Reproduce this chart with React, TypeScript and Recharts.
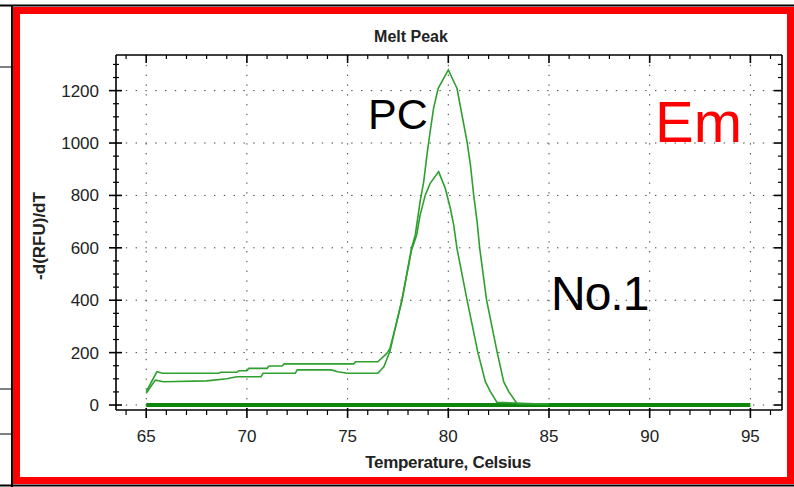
import { LineChart, Line, XAxis, YAxis, CartesianGrid, ReferenceLine } from "recharts";

// melt peak curves (temperature in °C, -d(RFU)/dT)
const pcTemp = [65, 65.45, 65.86, 68.0, 69.0, 69.5, 70.7, 70.8, 72.4, 72.5, 74.2, 74.5, 75.0, 76.5, 76.8, 77.1, 77.4, 77.7, 78.17, 78.36, 78.6, 78.78, 78.94, 79.1, 79.27, 79.5, 80.0, 80.43, 80.68, 80.93, 81.1, 81.26, 81.43, 81.56, 81.9, 82.42, 82.75, 83.0, 83.42, 85.0];
const pcValue = [45, 95, 89, 92, 100, 108, 108, 121, 121, 134, 134, 127, 121, 121, 146, 204, 305, 401, 598, 649, 776, 853, 955, 1044, 1133, 1209, 1279, 1209, 1107, 1005, 916, 802, 700, 598, 401, 204, 89, 51, 5, 3];

const no1Temp = [65, 65.53, 65.8, 68.6, 68.7, 69.5, 69.6, 70.0, 70.1, 71.0, 71.1, 71.75, 71.85, 75.3, 75.4, 76.5, 76.95, 77.1, 77.4, 77.7, 78.17, 78.43, 78.6, 78.86, 79.1, 79.52, 79.85, 80.1, 80.27, 80.43, 80.93, 81.46, 81.84, 82.09, 82.42, 85.0];
const no1Value = [51, 127, 121, 121, 125, 125, 131, 131, 140, 140, 149, 149, 157, 157, 165, 165, 197, 215, 305, 401, 590, 649, 725, 802, 846, 891, 827, 751, 687, 598, 401, 204, 89, 51, 10, 3];

// flat negative samples
const flatTemp = [65, 70, 75, 80, 85, 90, 95];
const flatValue = [0, 0, 0, 0, 0, 0, 0];

const xMajor = [65, 70, 75, 80, 85, 90, 95];
const xMinor = [64, 65, 66, 67, 68, 69, 70, 71, 72, 73, 74, 75, 76, 77, 78, 79, 80, 81, 82, 83, 84, 85, 86, 87, 88, 89, 90, 91, 92, 93, 94, 95, 96];
const yMajor = [0, 200, 400, 600, 800, 1000, 1200];
const yMinor = [0, 50, 100, 150, 200, 250, 300, 350, 400, 450, 500, 550, 600, 650, 700, 750, 800, 850, 900, 950, 1000, 1050, 1100, 1150, 1200, 1250, 1300];

const pc = pcTemp.map((t, i) => ({ t, v: pcValue[i] }));
const no1 = no1Temp.map((t, i) => ({ t, v: no1Value[i] }));
const flat = flatTemp.map((t, i) => ({ t, v: flatValue[i] }));

const xDomain = [63.5, 96.57];
const yDomain = [-19, 1336];
const font = "'Liberation Sans', Arial, sans-serif";
const curveColor = "#2f9f2f";
const PLOT_TOP = 55;
const PLOT_RIGHT = 782;

// bottom ticks + the mirrored ticks on the top edge of the frame
function XTick(props: any) {
  const { x, y, payload } = props;
  const major = xMajor.includes(payload.value);
  return (
    <g>
      <line x1={x} x2={x} y1={major ? y - 2 : y} y2={y + (major ? 8 : 5)} stroke="#000" strokeWidth={major ? 1.6 : 1.2} />
      <line x1={x} x2={x} y1={PLOT_TOP} y2={PLOT_TOP + (major ? 8 : 4)} stroke="#000" strokeWidth={major ? 1.6 : 1.2} />
      {major && (
        <text x={x} y={y + 32} textAnchor="middle" fontSize={17} fill="#222">{payload.value}</text>
      )}
    </g>
  );
}

// left ticks (crossing the axis) + inward ticks on the right edge
function YTick(props: any) {
  const { x, y, payload } = props;
  const major = yMajor.includes(payload.value);
  return (
    <g>
      <line x1={x - (major ? 7 : 3)} x2={x + (major ? 6 : 3)} y1={y} y2={y} stroke="#000" strokeWidth={major ? 1.6 : 1.2} />
      <line x1={PLOT_RIGHT - (major ? 8 : 4)} x2={PLOT_RIGHT} y1={y} y2={y} stroke="#000" strokeWidth={major ? 1.6 : 1.2} />
      {major && (
        <text x={x - 17} y={y + 6} textAnchor="end" fontSize={17} fill="#222">{payload.value}</text>
      )}
    </g>
  );
}

export default function App() {
  return (
    <div style={{ position: "absolute", left: 0, top: 0, width: 794, height: 487, background: "#fff", overflow: "hidden" }}>
      <LineChart width={794} height={487} margin={{ top: PLOT_TOP, right: 794 - PLOT_RIGHT, bottom: 0, left: 0 }} style={{ fontFamily: font }}>
        <CartesianGrid stroke="#444" strokeDasharray="1.4 8.4" horizontalValues={yMajor} verticalValues={xMajor} />
        <XAxis dataKey="t" type="number" domain={xDomain} allowDataOverflow ticks={xMinor} interval={0} height={77}
          tickSize={0} tickMargin={0} tickLine={false} axisLine={{ stroke: "#000", strokeWidth: 1.6 }} tick={<XTick />} />
        <YAxis type="number" domain={yDomain} allowDataOverflow ticks={yMinor} interval={0} width={116}
          tickSize={0} tickMargin={0} tickLine={false} axisLine={{ stroke: "#000", strokeWidth: 1.6 }} tick={<YTick />} />
        <ReferenceLine y={yDomain[1]} stroke="#000" strokeWidth={1.6} />
        <ReferenceLine x={xDomain[1]} stroke="#000" strokeWidth={1.6} />
        <Line data={flat} dataKey="v" type="linear" stroke="#0f870f" strokeWidth={4} dot={false} isAnimationActive={false} />
        <Line data={no1} dataKey="v" type="linear" stroke={curveColor} strokeWidth={1.6} dot={false} isAnimationActive={false} />
        <Line data={pc} dataKey="v" type="linear" stroke={curveColor} strokeWidth={1.6} dot={false} isAnimationActive={false} />
      </LineChart>
      <svg width={794} height={487} style={{ position: "absolute", left: 0, top: 0, pointerEvents: "none", fontFamily: font }}>
        {/* bits of the surrounding window */}
        <line x1={0} y1={5.5} x2={794} y2={5.5} stroke="#000" strokeWidth={2} />
        <line x1={12} y1={5} x2={12} y2={487} stroke="#000" strokeWidth={2} />
        <line x1={0} y1={67} x2={12} y2={67} stroke="#000" strokeWidth={1} />
        <line x1={0} y1={389} x2={12} y2={389} stroke="#000" strokeWidth={1} />
        <line x1={0} y1={434} x2={12} y2={434} stroke="#000" strokeWidth={1} />
        <line x1={0} y1={485.5} x2={794} y2={485.5} stroke="#000" strokeWidth={2} />
        <rect x={16.5} y={10.5} width={774} height={470} fill="none" stroke="#ff0000" strokeWidth={7} />
        <text x={411} y={42} textAnchor="middle" fontSize={16} fontWeight="bold" fill="#222">Melt Peak</text>
        <text x={45} y={236} textAnchor="middle" fontSize={17} fontWeight="bold" fill="#222" transform="rotate(-90 45 236)">-d(RFU)/dT</text>
        <text x={448} y={468} textAnchor="middle" fontSize={17} fontWeight="bold" fill="#222" letterSpacing={-0.3}>Temperature, Celsius</text>
        <text x={368} y={128.5} fontSize={43} fill="#000">PC</text>
        <text x={655} y={141.5} fontSize={58} fill="#ff0000">Em</text>
        <text x={551} y={310} fontSize={48} fill="#000" letterSpacing={-1}>No.1</text>
      </svg>
    </div>
  );
}
